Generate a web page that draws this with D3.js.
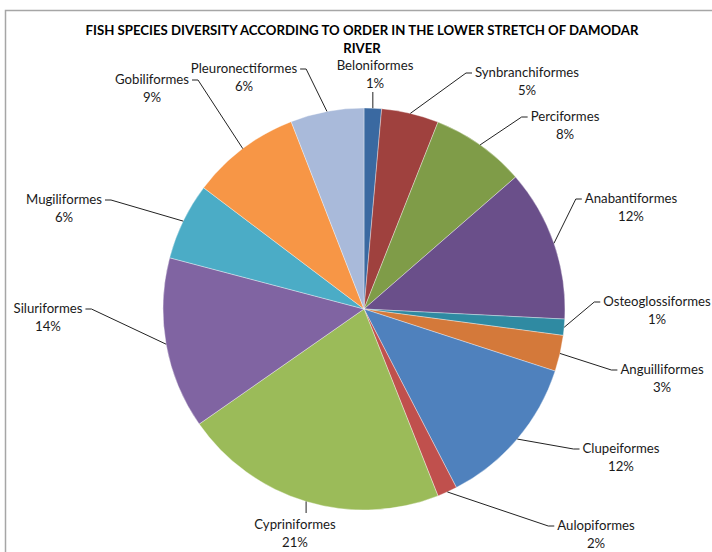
<!DOCTYPE html>
<html><head><meta charset="utf-8">
<script src="https://cdn.jsdelivr.net/npm/d3@7"></script>
<style>body{margin:0;background:#fff}svg{display:block}</style>
</head><body>
<svg id="c" width="712" height="552"></svg>
<script>
const categories = ["Beloniformes","Synbranchiformes","Perciformes","Anabantiformes","Osteoglossiformes","Anguilliformes","Clupeiformes","Aulopiformes","Cypriniformes","Siluriformes","Mugiliformes","Gobiliformes","Pleuronectiformes"];
const values = [1.4,4.6,7.6,12.2,1.3,2.9,12.4,1.6,21.3,13.8,6.2,8.8,5.9];
const colors = ["#3A69A1","#9F413E","#7F9C48","#6A4F8A","#2F8AA2","#D4793A","#4F81BD","#C0504D","#9BBB59","#8064A2","#4BACC6","#F79646","#A9BADA"];
const titleLines = ["FISH SPECIES DIVERSITY ACCORDING TO ORDER IN THE LOWER STRETCH OF DAMODAR","RIVER"];
// label layout: text centre x, name baseline y, side of elbow
const labelLayout = [
  {x:375,y:70,side:"below"},
  {x:527,y:77,side:"left"},
  {x:565,y:121,side:"left"},
  {x:631,y:203,side:"left"},
  {x:657,y:306,side:"left"},
  {x:662,y:374,side:"left"},
  {x:621,y:453,side:"left"},
  {x:596,y:530,side:"left"},
  {x:295,y:529,side:"above"},
  {x:48,y:313,side:"right"},
  {x:64,y:204,side:"right"},
  {x:152,y:84,side:"right"},
  {x:244,y:73,side:"right"}
];

const svg = d3.select("#c");
const font = "Lato, 'Open Sans', sans-serif";
// frame
svg.append("rect").attr("x",5.5).attr("y",10.5).attr("width",760).attr("height",600)
  .attr("fill","none").attr("stroke","#A6A6A6").attr("stroke-width",1.5);

const title = svg.append("text").attr("text-anchor","middle").attr("font-family",font)
  .attr("font-weight","bold").attr("font-size",13.2).attr("fill","#000");
titleLines.forEach((t,i)=>title.append("tspan").attr("x",362).attr("y",35+i*18).text(t));

const cx = 364, cy = 309, R = 201;
const data = categories.map((c,i)=>({name:c,value:values[i],color:colors[i],lab:labelLayout[i]}));
const total = d3.sum(values);
const pie = d3.pie().value(d=>d.value).sort(null);
const arc = d3.arc().innerRadius(0).outerRadius(R);
const g = svg.append("g").attr("transform",`translate(${cx},${cy})`);
const arcs = pie(data);
g.selectAll("path").data(arcs).join("path").attr("d",arc)
  .attr("fill",d=>d.data.color).attr("stroke","#fff").attr("stroke-width",0.6).attr("stroke-opacity",0.6);

const pct = d3.format(".0%");
const lg = svg.append("g");
arcs.forEach(a=>{
  const m = (a.startAngle+a.endAngle)/2;
  const px = cx + R*Math.sin(m), py = cy - R*Math.cos(m);
  const L = a.data.lab;
  const t = lg.append("text").attr("text-anchor","middle").attr("font-family",font)
    .attr("font-size",13.2).attr("fill","#1a1a1a");
  t.append("tspan").attr("x",L.x).attr("y",L.y).text(a.data.name);
  t.append("tspan").attr("x",L.x).attr("y",L.y+18).text(pct(a.data.value/total));
  const w = t.select("tspan").node().getComputedTextLength();
  let pts;
  if (L.side==="left") { const ex=L.x-w/2-3, ey=L.y-4; pts=[[px,py],[ex-6,ey],[ex,ey]]; }
  else if (L.side==="right") { const ex=L.x+w/2+3, ey=L.y-4; pts=[[px,py],[ex+6,ey],[ex,ey]]; }
  else if (L.side==="below") { pts=[[px,py],[px,L.y+22]]; }
  else { pts=[[px,py],[px,L.y-16]]; }
  lg.append("path").attr("d",d3.line()(pts)).attr("fill","none").attr("stroke","#222").attr("stroke-width",1);
});
</script>
</body></html>
